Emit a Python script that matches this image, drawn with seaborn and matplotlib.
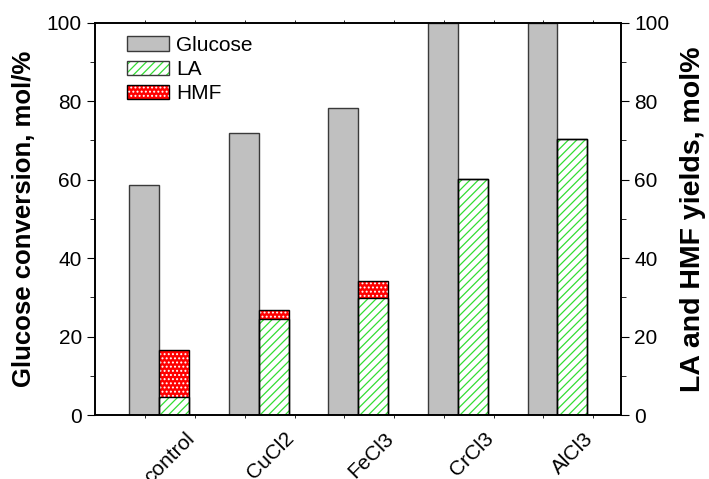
import numpy as np
import pandas as pd
import seaborn as sns
import matplotlib.pyplot as plt
from matplotlib.patches import Patch
from matplotlib.ticker import MultipleLocator, FixedLocator

# data
catalysts = ["control", "CuCl2", "FeCl3", "CrCl3", "AlCl3"]
glucose = [58.7, 71.9, 78.3, 100, 100]
la = [4.7, 24.4, 29.7, 60.1, 70.4]
hmf = [11.9, 2.4, 4.4, 0, 0]

sns.set_style("ticks")
plt.rcParams["font.family"] = ["Liberation Sans", "DejaVu Sans"]
plt.rcParams["hatch.linewidth"] = 0.9
for k in ["text.color", "axes.labelcolor", "xtick.color", "ytick.color"]:
    plt.rcParams[k] = "black"

totals = [a + b for a, b in zip(la, hmf)]
df = pd.DataFrame({"catalyst": catalysts * 2,
                   "series": ["Glucose"] * 5 + ["Yield"] * 5,
                   "value": glucose + totals})

fig = plt.figure(figsize=(7.09, 4.79), dpi=100)
ax = fig.add_axes([0.134, 0.1336, 0.742, 0.819])

sns.barplot(data=df, x="catalyst", y="value", hue="series", order=catalysts,
            hue_order=["Glucose", "Yield"],
            palette={"Glucose": "#c0c0c0", "Yield": "#ff0000"},
            width=0.6, saturation=1, legend=False, errorbar=None, ax=ax)

for p in ax.containers[0]:
    p.set_edgecolor("#3a3a3a")
    p.set_linewidth(1.0)
yield_bars = ax.containers[1]
for p in yield_bars:
    p.set_edgecolor("white")
    p.set_hatch("....")
    p.set_linewidth(0)

xs = [p.get_x() for p in yield_bars]
w = yield_bars[0].get_width()
ax.bar(xs, la, width=w, align="edge", color="white", edgecolor="#33dd33",
       hatch="////", linewidth=0)
ax.bar(xs, totals, width=w, align="edge", fill=False, edgecolor="black", linewidth=1)
ax.bar(xs, la, width=w, align="edge", fill=False, edgecolor="black", linewidth=1)

ax.set_ylim(0, 100)
ax.set_xlim(-0.646, 4.64)
ax.yaxis.set_major_locator(MultipleLocator(20))
ax.yaxis.set_minor_locator(MultipleLocator(10))
ax.set_xticks([i + 0.26 for i in range(len(catalysts))], catalysts,
              rotation=45, ha="right", rotation_mode="anchor")
ax.xaxis.set_minor_locator(FixedLocator(np.arange(-0.14, 4.6, 0.5)))
ax.tick_params(axis="x", which="major", length=0, pad=10, labelsize=15)
ax.tick_params(axis="x", which="minor", length=2.5, top=True, bottom=True, direction="out")
ax.tick_params(axis="y", which="major", length=6, labelsize=15, direction="out")
ax.tick_params(axis="y", which="minor", length=3.5, direction="out")
ax.set_xlabel("")
ax.set_ylabel("Glucose conversion, mol/%", fontsize=18.5, fontweight="bold")
ax.yaxis.set_label_coords(-0.112, 0.5)

ax2 = ax.twinx()
ax2.set_ylim(0, 100)
ax2.yaxis.set_major_locator(MultipleLocator(20))
ax2.yaxis.set_minor_locator(MultipleLocator(10))
ax2.tick_params(axis="y", which="major", length=6, labelsize=15, direction="out")
ax2.tick_params(axis="y", which="minor", length=3.5, direction="out")
ax2.set_ylabel("LA and HMF yields, mol%", fontsize=20.5, fontweight="bold")
ax2.yaxis.set_label_coords(1.112, 0.5)

for a in (ax, ax2):
    for s in a.spines.values():
        s.set_linewidth(1.2)
        s.set_color("black")

h_glu = Patch(facecolor="#c0c0c0", edgecolor="#3a3a3a", lw=1)
h_la = (Patch(facecolor="white", edgecolor="#33dd33", hatch="////", lw=0),
        Patch(fill=False, edgecolor="#3a3a3a", lw=1))
h_hmf = (Patch(facecolor="red", edgecolor="white", hatch="....", lw=0),
         Patch(fill=False, edgecolor="black", lw=1))
ax.legend([h_glu, h_la, h_hmf], ["Glucose", "LA", "HMF"], loc="upper left",
          bbox_to_anchor=(0.061, 0.966), frameon=False, fontsize=15,
          handlelength=2.0, handleheight=0.7, handletextpad=0.35,
          labelspacing=0.25, borderpad=0, borderaxespad=0)

fig.savefig("out.png", dpi=100)
